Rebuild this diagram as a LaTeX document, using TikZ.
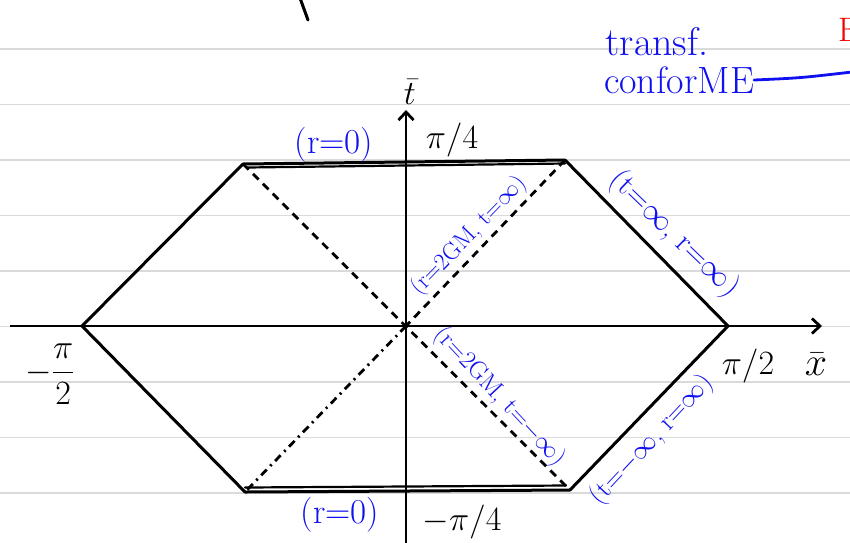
\RequirePackage{fix-cm}
\documentclass[tikz,border=0pt]{standalone}
\usepackage{amsmath}
\usepackage{xcolor}
\usepackage{tikz}
\usetikzlibrary{arrows.meta}
\definecolor{ink}{HTML}{1010F0}
\definecolor{ruleline}{HTML}{DADADA}
\definecolor{pen}{HTML}{F00000}

\begin{document}
\begin{tikzpicture}[
  x=1pt,y=-1pt,
  edge/.style={line width=3pt,line cap=round,line join=round},
  horizon/.style={line width=2.8pt,dash pattern=on 8pt off 6pt},
  axis/.style={line width=2.8pt,-{Straight Barb[length=8pt,width=15pt]}},
  tick/.style={inner sep=0pt,font=\fontsize{34}{38}\selectfont},
  lbl/.style={inner sep=0pt,text=ink,font=\fontsize{35}{38}\selectfont},
  slant/.style={inner sep=0pt,text=ink,font=\fontsize{24}{27}\selectfont}
]
\useasboundingbox (0,0) rectangle (850,542);
\clip (0,0) rectangle (850,542);
% ruled paper
\foreach \y in {49,104.5,...,500}
  \draw[ruleline,line width=1.6pt] (0,\y) -- (850,\y);
\draw[edge] (300,-2) -- (308,20);

% corners of the diagram
\coordinate (O) at (406,326);
\coordinate (L) at (82,326);
\coordinate (R) at (728,326);
\coordinate (TL) at (243,164);
\coordinate (TR) at (565,160);
\coordinate (BL) at (245,492);
\coordinate (BR) at (570,490);
\coordinate (xs) at (10,326);
\coordinate (xe) at (822,326);
\coordinate (ts) at (406,548);
\coordinate (te) at (406,110);

% axes
\draw[axis] (xs) -- (xe);
\draw[axis] (ts) -- (te);

% boundary
\draw[edge] (TL) -- (L) -- (BL);
\draw[edge] (TR) -- (R) -- (BR);
\draw[edge] (TL) -- (TR);
\draw[edge,line width=2.2pt] ([shift={(4,3.5)}]TL) -- ([shift={(0,3.5)}]TR);
\draw[edge] (BL) -- (BR);
\draw[edge,line width=2.2pt] ([shift={(0,-4.5)}]BL) -- ([shift={(-4,-4.5)}]BR);

% horizons
\draw[horizon] (TL) -- (BR);
\draw[horizon] (TR) -- (O);
\draw[horizon,dash pattern=on 8pt off 5pt on 2pt off 5pt] (O) -- (BL);

% axis labels
\node[tick] (tbar) at (410,92) {$\bar t$};
\node[tick] (tq) at (452,140) {$\pi/4$};
\node[tick] (tmq) at (462,522) {$-\pi/4$};
\node[tick] (xh) at (748,366) {$\pi/2$};
\node[tick] (xmh) at (50,374) {$-\dfrac{\pi}{2}$};
\node[tick,font=\fontsize{40}{44}\selectfont] (xbar) at (816,364) {$\bar x$};

% boundary labels
\node[lbl] (rtop) at (334,145) {(r=0)};
\node[lbl] (rbot) at (340,515) {(r=0)};
\node[slant,rotate=46] (hfut) at (469,236) {(r=2GM, t=$\infty$)};
\node[slant,rotate=-44,font=\fontsize{31}{34}\selectfont] (ifut) at (674,234) {(t=$\infty$, r=$\infty$)};
\node[slant,rotate=-47,font=\fontsize{25}{28}\selectfont] (hpast) at (500,397) {(r=2GM, t=$-\infty$)};
\node[slant,rotate=47,font=\fontsize{27}{30}\selectfont] (ipast) at (652,440) {(t=$-\infty$, r=$\infty$)};

% note
\node[lbl,font=\fontsize{40}{44}\selectfont] (transf) at (657,42) {transf.};
\node[lbl,font=\fontsize{38}{42}\selectfont] (conf) at (679,80) {conforME};
\draw[ink,line width=2.8pt,line cap=round] (conf.east) .. controls (800,78) .. (852,72);
\node[text=pen,anchor=west,inner sep=0pt,font=\fontsize{34}{38}\selectfont] (mark) at (838,30) {E};
\end{tikzpicture}
\end{document}
